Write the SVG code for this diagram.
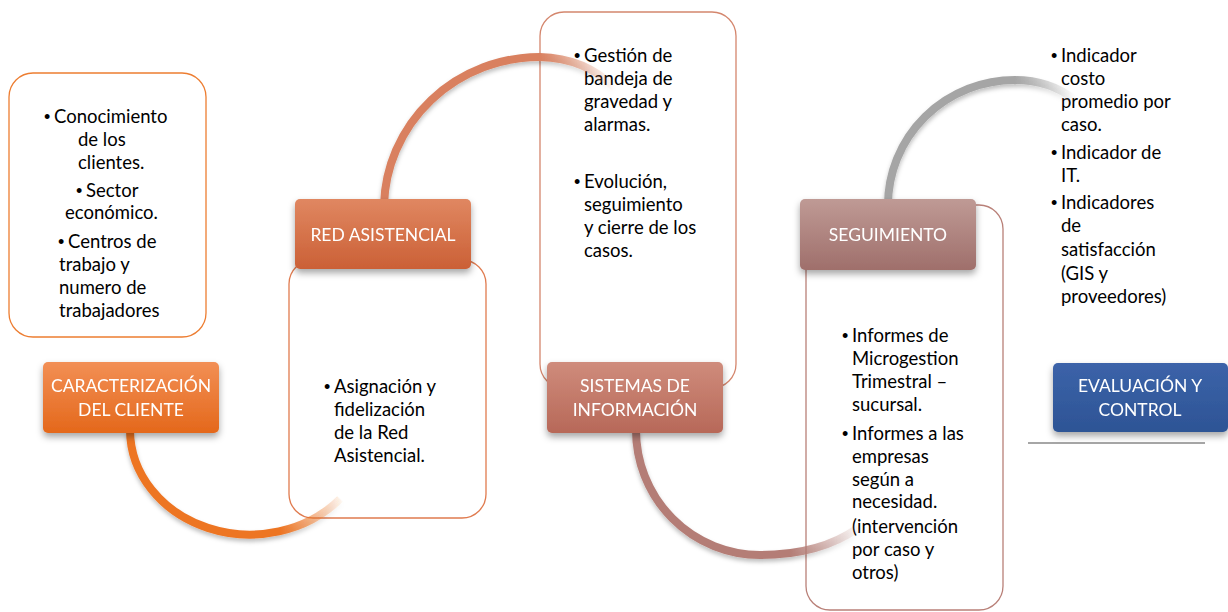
<svg xmlns="http://www.w3.org/2000/svg" width="1228" height="612" viewBox="0 0 1228 612">
<defs>
<style>
.t{font-family:Lato,"Liberation Sans",sans-serif;font-size:18.5px;fill:#000}
.b{font-family:"Liberation Sans",sans-serif;font-size:18px;fill:#000}
.h{font-family:Lato,"Liberation Sans",sans-serif;font-size:17.5px;fill:#fff;text-anchor:middle}
.box{fill:#fff;stroke-width:1.3}
.arc{fill:none;stroke-width:8;stroke-linecap:butt}
</style>
<filter id="sh" x="-20%" y="-20%" width="140%" height="160%">
<feDropShadow dx="0" dy="4" stdDeviation="3.5" flood-color="#000" flood-opacity="0.35"/>
</filter>
<filter id="ash" x="-20%" y="-20%" width="140%" height="140%">
<feDropShadow dx="0" dy="3" stdDeviation="2" flood-color="#000" flood-opacity="0.25"/>
</filter>
<linearGradient id="g1" x1="0" y1="0" x2="0" y2="1"><stop offset="0" stop-color="#F28F55"/><stop offset="1" stop-color="#E4681B"/></linearGradient>
<linearGradient id="g2" x1="0" y1="0" x2="0" y2="1"><stop offset="0" stop-color="#E08761"/><stop offset="1" stop-color="#CB6036"/></linearGradient>
<linearGradient id="g3" x1="0" y1="0" x2="0" y2="1"><stop offset="0" stop-color="#CF8C7C"/><stop offset="1" stop-color="#B76858"/></linearGradient>
<linearGradient id="g4" x1="0" y1="0" x2="0" y2="1"><stop offset="0" stop-color="#BF9A95"/><stop offset="1" stop-color="#9F6F6B"/></linearGradient>
<linearGradient id="g5" x1="0" y1="0" x2="0" y2="1"><stop offset="0" stop-color="#3C63A9"/><stop offset="1" stop-color="#2D5495"/></linearGradient>
<linearGradient id="a1" gradientUnits="userSpaceOnUse" x1="280" y1="0" x2="345" y2="0"><stop offset="0" stop-color="#ED7422"/><stop offset="1" stop-color="#ED7422" stop-opacity="0"/></linearGradient>
<linearGradient id="a2" gradientUnits="userSpaceOnUse" x1="540" y1="0" x2="615" y2="0"><stop offset="0" stop-color="#D9805F"/><stop offset="1" stop-color="#D9805F" stop-opacity="0"/></linearGradient>
<linearGradient id="a3" gradientUnits="userSpaceOnUse" x1="790" y1="0" x2="860" y2="0"><stop offset="0" stop-color="#B47D76"/><stop offset="1" stop-color="#B47D76" stop-opacity="0"/></linearGradient>
<linearGradient id="a4" gradientUnits="userSpaceOnUse" x1="1015" y1="0" x2="1075" y2="0"><stop offset="0" stop-color="#A5A5A5"/><stop offset="1" stop-color="#A5A5A5" stop-opacity="0"/></linearGradient>
</defs>
<rect width="1228" height="612" fill="#fff"/>

<g id="box1"><rect class="box" x="9" y="73" width="197" height="264" rx="24" stroke="#ED7D31"/>
<text class="b"><tspan x="44" y="123">•</tspan><tspan x="76" y="197">•</tspan><tspan x="58" y="248">•</tspan></text>
<text class="t"><tspan x="54" y="123">Conocimiento</tspan><tspan x="78" y="146">de los</tspan><tspan x="78" y="169">clientes.</tspan><tspan x="86" y="197">Sector</tspan><tspan x="65" y="219">económico.</tspan><tspan x="68" y="248">Centros de</tspan><tspan x="59" y="271">trabajo y</tspan><tspan x="59" y="294">numero de</tspan><tspan x="59" y="317">trabajadores</tspan></text></g>

<g id="box2"><rect class="box" x="289" y="260" width="197" height="258" rx="24" stroke="#E07B4F"/>
<text class="b"><tspan x="324" y="393">•</tspan></text>
<text class="t"><tspan x="334" y="393">Asignación y</tspan><tspan x="334" y="416">fidelización</tspan><tspan x="334" y="439">de la Red</tspan><tspan x="334" y="462">Asistencial.</tspan></text></g>

<g id="box3"><rect class="box" x="540" y="12" width="196" height="376" rx="24" stroke="#D4866D"/>
<text class="b"><tspan x="574" y="62">•</tspan><tspan x="574" y="188">•</tspan></text>
<text class="t"><tspan x="584" y="62">Gestión de</tspan><tspan x="584" y="85">bandeja de</tspan><tspan x="584" y="108">gravedad y</tspan><tspan x="584" y="131">alarmas.</tspan><tspan x="584" y="188">Evolución,</tspan><tspan x="584" y="211">seguimiento</tspan><tspan x="584" y="234">y cierre de los</tspan><tspan x="584" y="257">casos.</tspan></text></g>

<g id="box4"><rect class="box" x="806" y="205" width="197" height="405" rx="24" stroke="#B98078"/>
<text class="b"><tspan x="842" y="342">•</tspan><tspan x="842" y="440">•</tspan></text>
<text class="t"><tspan x="852" y="342">Informes de</tspan><tspan x="852" y="365">Microgestion</tspan><tspan x="852" y="388">Trimestral –</tspan><tspan x="852" y="411">sucursal.</tspan><tspan x="852" y="440">Informes a las</tspan><tspan x="852" y="463">empresas</tspan><tspan x="852" y="486">según a</tspan><tspan x="852" y="508">necesidad.</tspan><tspan x="852" y="533">(intervención</tspan><tspan x="852" y="556">por caso y</tspan><tspan x="852" y="579">otros)</tspan></text></g>

<g id="box5">
<text class="b"><tspan x="1051" y="62">•</tspan><tspan x="1051" y="159">•</tspan><tspan x="1051" y="209">•</tspan></text>
<text class="t"><tspan x="1061" y="62">Indicador</tspan><tspan x="1061" y="85">costo</tspan><tspan x="1061" y="108">promedio por</tspan><tspan x="1061" y="131">caso.</tspan><tspan x="1061" y="159">Indicador de</tspan><tspan x="1061" y="182">IT.</tspan><tspan x="1061" y="209">Indicadores</tspan><tspan x="1061" y="232">de</tspan><tspan x="1061" y="256">satisfacción</tspan><tspan x="1061" y="280">(GIS y</tspan><tspan x="1061" y="303">proveedores)</tspan></text>
<line x1="1028" y1="443" x2="1205" y2="443" stroke="#A6A6A6" stroke-width="2"/></g>

<g id="connectors" filter="url(#ash)">
<path class="arc" stroke="url(#a1)" d="M130 430 A120 105 0 0 0 340 499"/>
<path class="arc" stroke="url(#a2)" d="M384 205 A156 152 0 0 1 540 57 Q585 58 615 88"/>
<path class="arc" stroke="url(#a3)" d="M636 430 A124 125 0 0 0 760 555 Q820 555 858 528"/>
<path class="arc" stroke="url(#a4)" d="M888 205 A127 125 0 0 1 1015 80 Q1050 80 1075 100"/>
</g>

<g id="head1" filter="url(#sh)"><rect x="43" y="362" width="176" height="71" rx="5" fill="url(#g1)"/>
<text class="h"><tspan x="131" y="392">CARACTERIZACIÓN</tspan><tspan x="131" y="416">DEL CLIENTE</tspan></text></g>
<g id="head2" filter="url(#sh)"><rect x="295" y="199" width="176" height="70" rx="5" fill="url(#g2)"/>
<text class="h"><tspan x="383" y="241">RED ASISTENCIAL</tspan></text></g>
<g id="head3" filter="url(#sh)"><rect x="547" y="362" width="176" height="71" rx="5" fill="url(#g3)"/>
<text class="h"><tspan x="635" y="392">SISTEMAS DE</tspan><tspan x="635" y="416">INFORMACIÓN</tspan></text></g>
<g id="head4" filter="url(#sh)"><rect x="800" y="199" width="176" height="71" rx="5" fill="url(#g4)"/>
<text class="h"><tspan x="888" y="241">SEGUIMIENTO</tspan></text></g>
<g id="head5" filter="url(#sh)"><rect x="1053" y="363" width="175" height="69" rx="5" fill="url(#g5)"/>
<text class="h"><tspan x="1140" y="392">EVALUACIÓN Y</tspan><tspan x="1140" y="416">CONTROL</tspan></text></g>
</svg>
